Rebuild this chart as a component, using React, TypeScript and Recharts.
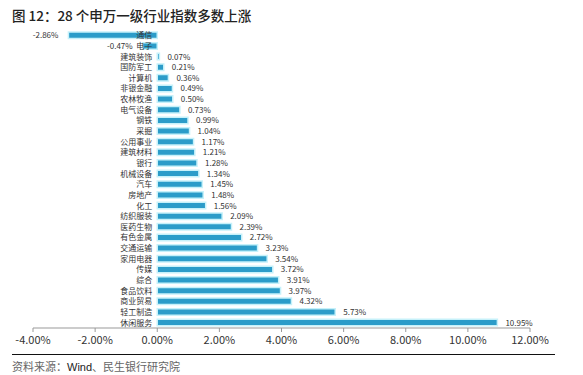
import React from 'react';
import { BarChart, Bar, XAxis, YAxis, LabelList } from 'recharts';

const industries = [
  '通信', '电子', '建筑装饰', '国防军工', '计算机', '非银金融', '农林牧渔', '电气设备', '钢铁', '采掘',
  '公用事业', '建筑材料', '银行', '机械设备', '汽车', '房地产', '化工', '纺织服装', '医药生物', '有色金属',
  '交通运输', '家用电器', '传媒', '综合', '食品饮料', '商业贸易', '轻工制造', '休闲服务',
];
const changes = [
  -2.86, -0.47, 0.07, 0.21, 0.36, 0.49, 0.5, 0.73, 0.99, 1.04,
  1.17, 1.21, 1.28, 1.34, 1.45, 1.48, 1.56, 2.09, 2.39, 2.72,
  3.23, 3.54, 3.72, 3.91, 3.97, 4.32, 5.73, 10.95,
];
const xTicks = [-4, -2, 0, 2, 4, 6, 8, 10, 12];

const data = industries.map((name, i) => ({ name, value: changes[i] }));

const font = '"Noto Sans CJK SC", "Noto Sans", sans-serif';

// bar edges, whichever way recharts hands over a negative width
const edges = (x: number, width: number, value: number) => {
  const a = x;
  const b = x + width;
  const lo = Math.min(a, b);
  const hi = Math.max(a, b);
  return value >= 0 ? { zero: lo, end: hi } : { zero: hi, end: lo };
};

const NameLabel = (props: any) => {
  const { x, y, width, height, index } = props;
  const v = changes[index];
  const { zero } = edges(Number(x), Number(width), v);
  return (
    <text x={zero - 5} y={Number(y) + Number(height) / 2} dy={3} textAnchor="end"
      fontSize={8} fill="#333" fontFamily={font}>
      {industries[index]}
    </text>
  );
};

const ValueLabel = (props: any) => {
  const { x, y, width, height, index } = props;
  const v = changes[index];
  const { end } = edges(Number(x), Number(width), v);
  const neg = v < 0;
  return (
    <text x={neg ? end - 10 : end + 8} y={Number(y) + Number(height) / 2} dy={3}
      textAnchor={neg ? 'end' : 'start'} fontSize={8} fill="#333" fontFamily={font}>
      {v.toFixed(2) + '%'}
    </text>
  );
};

const App = () => {
  return (
    <div style={{ position: 'absolute', left: 0, top: 0, width: 583, height: 375, background: '#fff', fontFamily: font }}>
      <div style={{ position: 'absolute', left: 12, top: 5, fontSize: 13.5, fontWeight: 500, color: '#222', whiteSpace: 'nowrap' }}>
        图 12：28 个申万一级行业指数多数上涨
      </div>
      <BarChart width={583} height={375} data={data} layout="vertical"
        margin={{ top: 30, right: 53, bottom: 27, left: 33 }}>
        <XAxis type="number" domain={[-4, 12]} ticks={xTicks} interval={0}
          tickFormatter={(v: number) => v.toFixed(2) + '%'}
          stroke="#999" tickSize={4} tickMargin={4} height={20}
          tick={{ fontSize: 11, fill: '#333', fontFamily: font }} />
        <YAxis type="category" dataKey="name" hide width={0} />
        <Bar dataKey="value" fill="#2B9CC9" stroke="#c6f1fa" strokeWidth={1.5}
          barSize={6.5} isAnimationActive={false}>
          <LabelList dataKey="value" content={NameLabel} />
          <LabelList dataKey="value" content={ValueLabel} />
        </Bar>
      </BarChart>
      <div style={{ position: 'absolute', left: 12, top: 354, width: 543, borderTop: '1.5px solid #111' }} />
      <div style={{ position: 'absolute', left: 12, top: 358, fontSize: 11, color: '#666', whiteSpace: 'nowrap' }}>
        资料来源：<span style={{ color: '#222', fontFamily: 'Arial, "Liberation Sans", sans-serif' }}>Wind</span>、民生银行研究院
      </div>
    </div>
  );
};

export default App;
